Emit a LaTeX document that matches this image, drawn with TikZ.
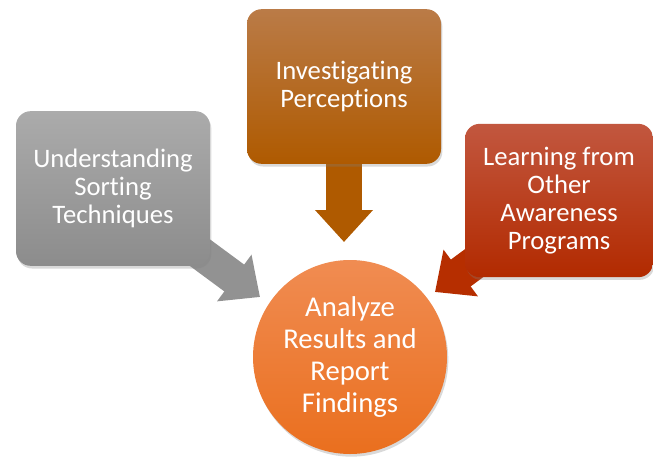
\documentclass[tikz,border=0pt]{standalone}
\usepackage{fontspec}
\setmainfont{Carlito}[Ligatures=NoCommon]
\usetikzlibrary{backgrounds, shadows, arrows.meta}
\usepackage{xcolor}

\definecolor{greyTop}{HTML}{ABABAB}
\definecolor{greyBot}{HTML}{8C8C8C}
\definecolor{brownTop}{HTML}{BA7B47}
\definecolor{brownBot}{HTML}{AF5A00}
\definecolor{redTop}{HTML}{C2573F}
\definecolor{redBot}{HTML}{B22A00}
\definecolor{orangeTop}{HTML}{F08C52}
\definecolor{orangeBot}{HTML}{EA6F1E}

\tikzset{
    topic/.style={rounded corners=11pt, minimum width=145.5pt, minimum height=116pt,
        text=white, align=center, font=\fontsize{20}{21}\selectfont,
        drop shadow={opacity=0.3, shadow xshift=1pt, shadow yshift=-2pt}},
    hub/.style={circle, minimum size=145.5pt, inner sep=0pt, text=white, align=center,
        font=\fontsize{21.5}{24}\selectfont,
        top color=orangeTop, bottom color=orangeBot,
        drop shadow={opacity=0.3, shadow xshift=1pt, shadow yshift=-2pt}},
    fatarrow/.style={line width=25pt, -{Triangle[length=24pt, width=42pt]}}
}

\begin{document}
\begin{tikzpicture}[x=0.75pt, y=-0.75pt]
        % \draw[style=help lines] (0, 0) grid[step=50] (653, 458);
        \useasboundingbox (0, 0) rectangle (653, 458);
        \node[topic, top color=greyTop, bottom color=greyBot] (sorting) at (113, 188.5)
            {Understanding\\Sorting\\Techniques};
        \node[topic, top color=brownTop, bottom color=brownBot] (perceptions) at (344, 86.5)
            {Investigating\\Perceptions};
        \node[topic, minimum width=141pt, minimum height=115pt,
            top color=redTop, bottom color=redBot] (programs) at (559, 200.5)
            {Learning from\\Other\\Awareness\\Programs};
        \node[hub] (findings) at (350, 357) {Analyze\\Results and\\Report\\Findings};
        \coordinate (sortingTip) at (260, 297);
        \coordinate (perceptionsTip) at (344, 242);
        \coordinate (programsTip) at (435, 292);
        \begin{pgfonlayer}{background}
            \draw[fatarrow, color=greyBot!95!white] (sorting.center) -- (sortingTip);
            \draw[fatarrow, line width=27pt, color=brownBot] (perceptions.center) -- (perceptionsTip);
            \draw[fatarrow, color=redBot!95!orange] (programs.center) -- (programsTip);
        \end{pgfonlayer}
    \end{tikzpicture}
\end{document}
